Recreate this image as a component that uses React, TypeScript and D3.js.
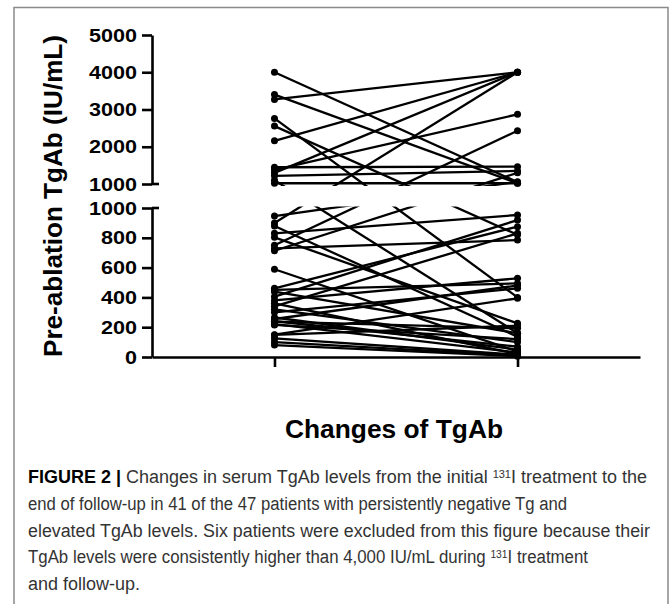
import { useRef, useEffect } from 'react';
import * as d3 from 'd3';

// paired TgAb values (IU/mL)
const timePoints = ["Initial 131I treatment", "End of follow-up"];
const initialTgAb = [
  4000, 3400, 3270, 2760, 2555, 2160, 1450, 1380, 1300, 1220, 1100, 1020,
  946, 900, 750, 713,
  879, 830, 803, 729, 589, 461, 450, 438, 405, 380,
  360, 340, 320, 300, 265, 255, 240, 237, 220, 215,
  150, 148, 125, 100, 80
];
const followUpTgAb = [
  1050, 1020, 4000, 400, 820, 4000, 1465, 2870, 4000, 1350, 160, 1020,
  1060, 4000, 2430, 1300,
  136, 953, 226, 785, 36, 875, 494, 159, 919, 528,
  20, 830, 100, 461, 50, 480, 69, 193, 30, 120,
  394, 210, 15, 10, 5
];
const upperTicks = [1000, 2000, 3000, 4000, 5000];
const lowerTicks = [0, 200, 400, 600, 800, 1000];

const yTitle = "Pre-ablation TgAb (IU/mL)";
const xTitle = "Changes of TgAb";

const FONT = "'Liberation Sans', Arial, Helvetica, sans-serif";

const App = () => {
  const ref = useRef(null);

  useEffect(() => {
    const svg = d3.select(ref.current);
    svg.selectAll("*").remove();

    const axisX = 152;
    const yUpper = d3.scaleLinear().domain([1000, 5000]).range([184, 35]);
    const yLower = d3.scaleLinear().domain([0, 1000]).range([357, 208]);
    const y = v => (v >= 1000 ? yUpper(v) : yLower(v));

    const x = d3.scalePoint().domain(timePoints).range([axisX, 640]).padding(0.504);

    // frame
    svg.append("rect")
      .attr("x", 14).attr("y", 7.5)
      .attr("width", 654).attr("height", 640)
      .attr("fill", "none")
      .attr("stroke", "#8a8a8a")
      .attr("stroke-width", 1.5);

    const defs = svg.append("defs");
    defs.append("clipPath").attr("id", "clipUpper")
      .append("rect").attr("x", 0).attr("y", 0).attr("width", 669).attr("height", 186);
    defs.append("clipPath").attr("id", "clipLower")
      .append("rect").attr("x", 0).attr("y", 206.5).attr("width", 669).attr("height", 200);

    const pairs = initialTgAb.map((v, i) => [v, followUpTgAb[i]]);

    ["clipUpper", "clipLower"].forEach(id => {
      svg.append("g")
        .attr("clip-path", `url(#${id})`)
        .selectAll("line")
        .data(pairs)
        .join("line")
        .attr("x1", x(timePoints[0]))
        .attr("x2", x(timePoints[1]))
        .attr("y1", d => y(d[0]))
        .attr("y2", d => y(d[1]))
        .attr("stroke", "#000")
        .attr("stroke-width", 2.3);
    });

    const pts = svg.append("g");
    pts.selectAll("circle.pre")
      .data(initialTgAb)
      .join("circle")
      .attr("cx", x(timePoints[0]))
      .attr("cy", d => y(d))
      .attr("r", 3.5)
      .attr("fill", "#000");
    pts.selectAll("circle.post")
      .data(followUpTgAb)
      .join("circle")
      .attr("cx", x(timePoints[1]))
      .attr("cy", d => y(d))
      .attr("r", 3.5)
      .attr("fill", "#000");

    // y axes (broken)
    const styleAxis = g => {
      g.selectAll("path, line").attr("stroke", "#000").attr("stroke-width", 2.6);
      g.selectAll("text")
        .attr("fill", "#000")
        .attr("font-family", FONT)
        .attr("font-weight", "bold")
        .attr("font-size", 19)
        .attr("textLength", d => String(d).length * 12)
        .attr("lengthAdjust", "spacingAndGlyphs");
    };

    svg.append("g")
      .attr("transform", `translate(${axisX},0)`)
      .call(d3.axisLeft(yUpper).tickValues(upperTicks).tickSize(10).tickSizeOuter(0).tickPadding(5).tickFormat(d3.format("d")))
      .call(styleAxis);

    svg.append("g")
      .attr("transform", `translate(${axisX},0)`)
      .call(d3.axisLeft(yLower).tickValues(lowerTicks).tickSize(10).tickSizeOuter(0).tickPadding(5).tickFormat(d3.format("d")))
      .call(styleAxis);

    // little caps at the break
    [yUpper(1000), yLower(1000)].forEach(yy => {
      svg.append("line")
        .attr("x1", axisX).attr("x2", axisX + 7)
        .attr("y1", yy).attr("y2", yy)
        .attr("stroke", "#000").attr("stroke-width", 2.6);
    });

    // x axis
    const xg = svg.append("g")
      .attr("transform", `translate(0,${yLower(0)})`)
      .call(d3.axisBottom(x).tickSize(10).tickSizeOuter(0).tickFormat(() => ""));
    xg.selectAll("path, line").attr("stroke", "#000").attr("stroke-width", 2.6);

    // titles
    svg.append("text")
      .attr("transform", `translate(62,196) rotate(-90)`)
      .attr("text-anchor", "middle")
      .attr("font-family", FONT)
      .attr("font-weight", "bold")
      .attr("font-size", 26)
      .attr("textLength", 322)
      .attr("lengthAdjust", "spacingAndGlyphs")
      .attr("fill", "#000")
      .text(yTitle);

    svg.append("text")
      .attr("x", 394).attr("y", 438)
      .attr("text-anchor", "middle")
      .attr("font-family", FONT)
      .attr("font-weight", "bold")
      .attr("font-size", 26)
      .attr("textLength", 218)
      .attr("lengthAdjust", "spacingAndGlyphs")
      .attr("fill", "#000")
      .text(xTitle);

    // caption
    const caption = [
      { parts: [["FIGURE 2 | ", "b"], ["Changes in serum TgAb levels from the initial ", ""], ["131", "s"], ["I treatment to the", ""]], w: 619 },
      { parts: [["end of follow-up in 41 of the 47 patients with persistently negative Tg and", ""]], w: 539 },
      { parts: [["elevated TgAb levels. Six patients were excluded from this figure because their", ""]], w: 622 },
      { parts: [["TgAb levels were consistently higher than 4,000 IU/mL during ", ""], ["131", "s"], ["I treatment", ""]], w: 560 },
      { parts: [["and follow-up.", ""]], w: 112 }
    ];
    caption.forEach((ln, i) => {
      const t = svg.append("text")
        .attr("x", 28)
        .attr("y", 483 + i * 26.8)
        .attr("font-family", FONT)
        .attr("font-size", 18)
        .attr("fill", "#333")
        .attr("textLength", ln.w)
        .attr("lengthAdjust", "spacingAndGlyphs");
      ln.parts.forEach(([s, k]) => {
        const sp = t.append("tspan").text(s);
        if (k === "b") sp.attr("font-weight", "bold").attr("fill", "#000");
        if (k === "s") sp.attr("font-size", 11).attr("baseline-shift", "45%");
      });
    });
  }, []);

  return (
    <svg
      ref={ref}
      width={669}
      height={604}
      style={{ position: "absolute", left: 0, top: 0, background: "#fff" }}
    />
  );
};

export default App;
